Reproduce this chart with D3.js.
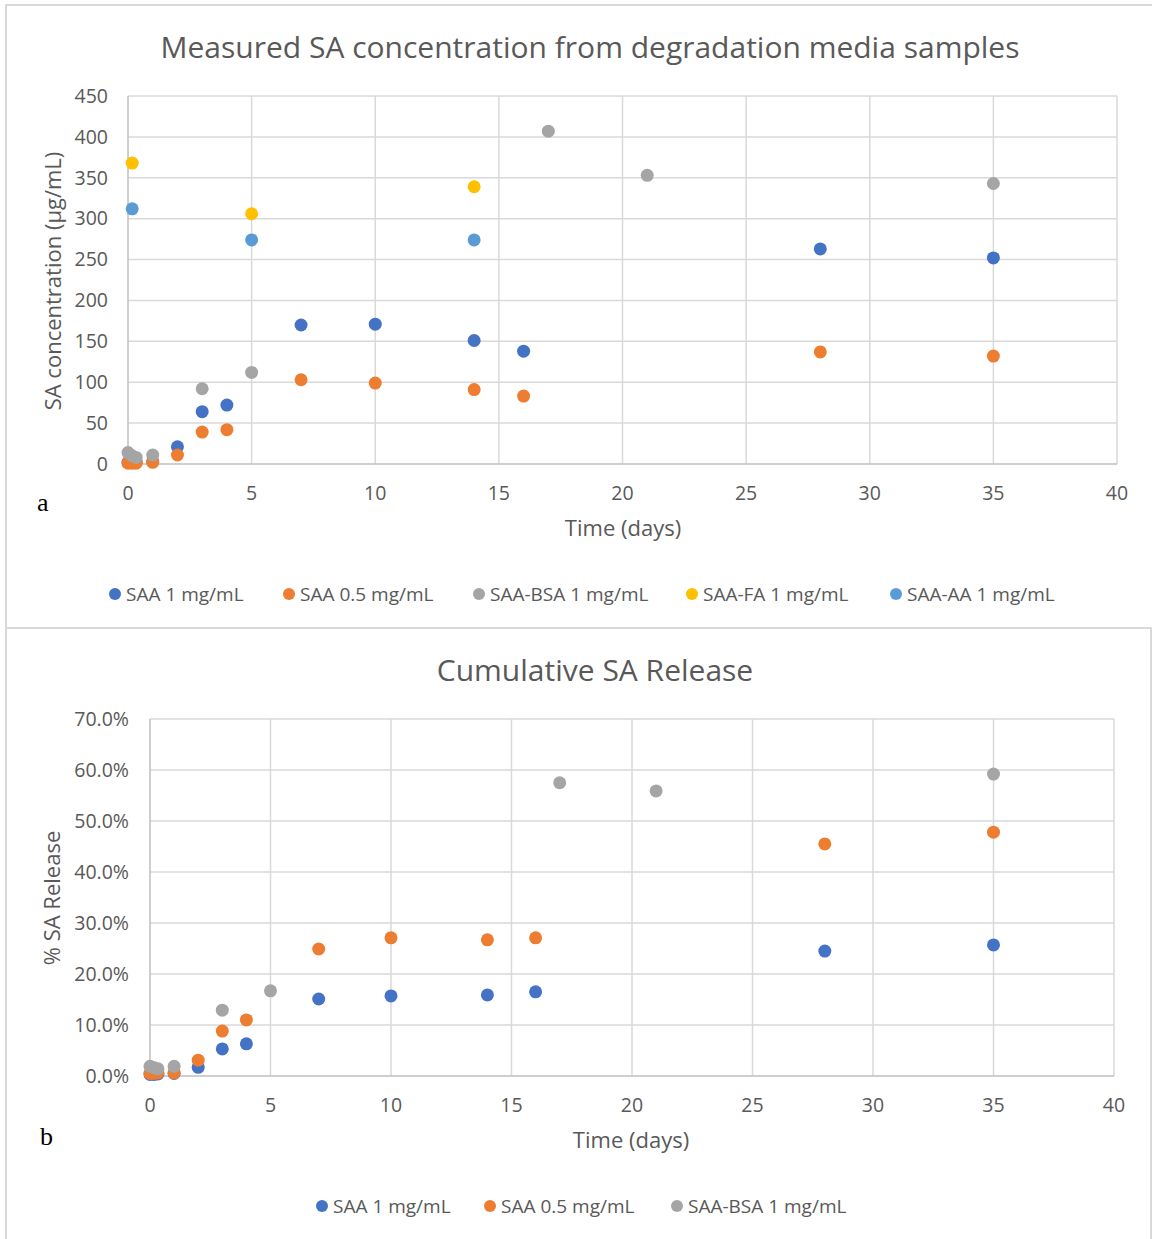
<!DOCTYPE html>
<html>
<head>
<meta charset="utf-8">
<script src="https://cdn.jsdelivr.net/npm/d3@7"></script>
<style>
  html, body { margin: 0; padding: 0; background: #fff; }
  svg { display: block; }
  text { font-family: "Segoe UI", "Open Sans", "Noto Sans", sans-serif; fill: #595959; }
</style>
</head>
<body>
<svg id="fig" width="1152" height="1239"></svg>
<script>
// ---- Panel a: measured SA concentration (µg/mL) ----
const concSAA1 = [[0, 2], [0.17, 2], [0.33, 3], [1, 3], [2, 21], [3, 64], [4, 72], [7, 170], [10, 171], [14, 151], [16, 138], [28, 263], [35, 252]];
const concSAA05 = [[0, 1], [0.17, 1], [0.33, 1], [1, 2], [2, 11], [3, 39], [4, 42], [7, 103], [10, 99], [14, 91], [16, 83], [28, 137], [35, 132]];
const concBSA = [[0, 14], [0.17, 10], [0.33, 8], [1, 11], [3, 92], [5, 112], [17, 407], [21, 353], [35, 343]];
const concFA = [[0.17, 368], [5, 306], [14, 339]];
const concAA = [[0.17, 312], [5, 274], [14, 274]];

// ---- Panel b: cumulative SA release (fraction) ----
const relSAA1 = [[0, 0.003], [0.17, 0.003], [0.33, 0.004], [1, 0.005], [2, 0.017], [3, 0.053], [4, 0.063], [7, 0.151], [10, 0.157], [14, 0.159], [16, 0.165], [28, 0.245], [35, 0.257]];
const relSAA05 = [[0, 0.005], [0.17, 0.005], [0.33, 0.006], [1, 0.006], [2, 0.031], [3, 0.088], [4, 0.110], [7, 0.249], [10, 0.271], [14, 0.267], [16, 0.271], [28, 0.455], [35, 0.478]];
const relBSA = [[0, 0.019], [0.17, 0.016], [0.33, 0.014], [1, 0.019], [3, 0.129], [5, 0.167], [17, 0.575], [21, 0.559], [35, 0.592]];

const concSeries = [
  { name: "SAA 1 mg/mL", color: "#4472C4", data: concSAA1 },
  { name: "SAA 0.5 mg/mL", color: "#ED7D31", data: concSAA05 },
  { name: "SAA-BSA 1 mg/mL", color: "#A5A5A5", data: concBSA },
  { name: "SAA-FA 1 mg/mL", color: "#FFC000", data: concFA },
  { name: "SAA-AA 1 mg/mL", color: "#5B9BD5", data: concAA }
];
const relSeries = [
  { name: "SAA 1 mg/mL", color: "#4472C4", data: relSAA1 },
  { name: "SAA 0.5 mg/mL", color: "#ED7D31", data: relSAA05 },
  { name: "SAA-BSA 1 mg/mL", color: "#A5A5A5", data: relBSA }
];

const xTicks = [0, 5, 10, 15, 20, 25, 30, 35, 40];
const concTicks = [0, 50, 100, 150, 200, 250, 300, 350, 400, 450];
const relTicks = [0, 0.1, 0.2, 0.3, 0.4, 0.5, 0.6, 0.7];

const svg = d3.select("#fig");

// panel frames
svg.append("rect").attr("x", 6).attr("y", 5).attr("width", 1150).attr("height", 623)
  .attr("fill", "none").attr("stroke", "#d9d9d9").attr("stroke-width", 2);
svg.append("rect").attr("x", 6).attr("y", 628).attr("width", 1145).attr("height", 620)
  .attr("fill", "none").attr("stroke", "#d9d9d9").attr("stroke-width", 2);

function drawChart(cfg) {
  const g = svg.append("g");
  const x = d3.scaleLinear().domain([0, 40]).range([cfg.left, cfg.right]);
  const y = d3.scaleLinear().domain([0, cfg.yMax]).range([cfg.bottom, cfg.top]);

  // horizontal gridlines
  g.append("g").selectAll("line").data(cfg.yTicks.slice(1)).join("line")
    .attr("x1", cfg.left).attr("x2", cfg.right)
    .attr("y1", d => y(d)).attr("y2", d => y(d))
    .attr("stroke", "#d9d9d9").attr("stroke-width", 1.5);
  // vertical gridlines
  g.append("g").selectAll("line").data(xTicks.slice(1)).join("line")
    .attr("x1", d => x(d)).attr("x2", d => x(d))
    .attr("y1", cfg.top).attr("y2", cfg.bottom)
    .attr("stroke", "#d9d9d9").attr("stroke-width", 1.5);
  // axis lines
  g.append("line").attr("x1", cfg.left).attr("x2", cfg.left).attr("y1", cfg.top).attr("y2", cfg.bottom)
    .attr("stroke", "#bfbfbf").attr("stroke-width", 1.5);
  g.append("line").attr("x1", cfg.left).attr("x2", cfg.right).attr("y1", cfg.bottom).attr("y2", cfg.bottom)
    .attr("stroke", "#bfbfbf").attr("stroke-width", 1.5);

  // y tick labels
  g.append("g").selectAll("text").data(cfg.yTicks).join("text")
    .attr("x", cfg.left - cfg.yLabelGap).attr("y", d => y(d))
    .attr("dy", "0.35em").attr("text-anchor", "end").attr("font-size", 19.5)
    .text(cfg.yFormat);
  // x tick labels
  g.append("g").selectAll("text").data(xTicks).join("text")
    .attr("x", d => x(d)).attr("y", cfg.bottom + 36)
    .attr("text-anchor", "middle").attr("font-size", 19.5)
    .text(d => d);

  // title and axis titles
  g.append("text").attr("x", cfg.titleX).attr("y", cfg.titleY)
    .attr("text-anchor", "middle").attr("font-size", 30).text(cfg.title);
  g.append("text").attr("x", cfg.xTitleX).attr("y", cfg.bottom + 72)
    .attr("text-anchor", "middle").attr("font-size", 22).text("Time (days)");
  g.append("text")
    .attr("transform", `translate(${cfg.yTitleX},${cfg.yTitleY}) rotate(-90)`)
    .attr("text-anchor", "middle").attr("font-size", 22).text(cfg.yTitle);

  // markers
  cfg.series.forEach(s => {
    g.append("g").selectAll("circle").data(s.data).join("circle")
      .attr("cx", d => x(d[0])).attr("cy", d => y(d[1]))
      .attr("r", 6.5).attr("fill", s.color);
  });

  // legend
  const lg = g.append("g");
  cfg.series.forEach((s, i) => {
    const cx = cfg.legendX[i];
    lg.append("circle").attr("cx", cx).attr("cy", cfg.legendY).attr("r", 6).attr("fill", s.color);
    lg.append("text").attr("x", cx + 11).attr("y", cfg.legendY).attr("dy", "0.35em")
      .attr("font-size", 19).text(s.name);
  });

  // panel letter
  svg.append("text").attr("x", cfg.letterX).attr("y", cfg.letterY)
    .style("font-family", "'Liberation Serif', 'Times New Roman', serif")
    .style("fill", "#000").attr("font-size", 26).text(cfg.letter);
}

drawChart({
  left: 128, right: 1117, top: 96, bottom: 464, yMax: 450, yTicks: concTicks,
  yFormat: d => d, yLabelGap: 20,
  title: "Measured SA concentration from degradation media samples", titleX: 590, titleY: 58,
  xTitleX: 623, yTitleX: 61, yTitleY: 281, yTitle: "SA concentration (µg/mL)",
  series: concSeries, legendX: [115, 289, 479, 692, 896], legendY: 594,
  letter: "a", letterX: 37, letterY: 511
});

drawChart({
  left: 150, right: 1114, top: 719, bottom: 1076, yMax: 0.7, yTicks: relTicks,
  yFormat: d3.format(".1%"), yLabelGap: 21,
  title: "Cumulative SA Release", titleX: 595, titleY: 681,
  xTitleX: 631, yTitleX: 60, yTitleY: 898, yTitle: "% SA Release",
  series: relSeries, legendX: [322, 490, 677], legendY: 1206,
  letter: "b", letterX: 40, letterY: 1145
});
</script>
</body>
</html>
